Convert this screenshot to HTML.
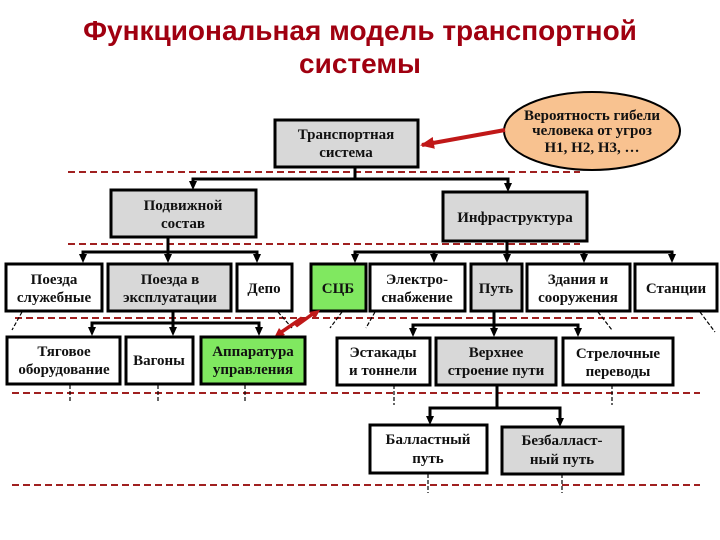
<!DOCTYPE html>
<html><head><meta charset="utf-8"><style>
html,body{margin:0;padding:0;background:#fff}
svg{display:block}
.t{font-family:"Liberation Serif",serif;font-weight:bold;font-size:15px;fill:#111;text-anchor:middle}
.b{stroke:#000;stroke-width:3}
.d{stroke:#a02020;stroke-width:2;stroke-dasharray:7,4;fill:none}
.l{stroke:#000;stroke-width:3;fill:none}
.s{stroke:#000;stroke-width:1.2;stroke-dasharray:4,2;fill:none}
</style></head><body>
<svg width="720" height="540" viewBox="0 0 720 540" xmlns="http://www.w3.org/2000/svg">
<defs><marker id="r" markerWidth="14" markerHeight="12" refX="12" refY="6" orient="auto" markerUnits="userSpaceOnUse"><path d="M0,0 L14,6 L0,12 Z" fill="#c01818"/></marker>
<path id="h" d="M-4,-9 L4,-9 L0,0 Z" fill="#000"/></defs>
<text x="360" y="40" font-family="Liberation Sans,sans-serif" font-weight="bold" font-size="28" fill="#a00010" text-anchor="middle">Функциональная модель транспортной</text>
<text x="360" y="73" font-family="Liberation Sans,sans-serif" font-weight="bold" font-size="28" fill="#a00010" text-anchor="middle">системы</text>

<ellipse cx="592" cy="131" rx="88" ry="39" fill="#f8c290" stroke="#000" stroke-width="2"/>
<text class="t" x="592" y="120" font-size="14">Вероятность гибели</text>
<text class="t" x="592" y="135" font-size="14">человека от угроз</text>
<text class="t" x="592" y="152">Н1, Н2, Н3, …</text>
<line x1="505" y1="130" x2="422" y2="145" stroke="#c01818" stroke-width="4" marker-end="url(#r)"/>

<rect x="275" y="120" width="143" height="47" fill="#d8d8d8" class="b"/>
<text class="t" x="346" y="139">Транспортная</text><text class="t" x="346" y="157">система</text>
<line x1="68" y1="172" x2="580" y2="172" class="d"/>
<path d="M355,167 V179 H193 V186 M355,179 H508 V188" class="l"/>
<use href="#h" x="193" y="190"/><use href="#h" x="508" y="192"/>

<rect x="111" y="190" width="145" height="47" fill="#d8d8d8" class="b"/>
<text class="t" x="183" y="210">Подвижной</text><text class="t" x="183" y="228">состав</text>
<rect x="443" y="192" width="144" height="49" fill="#d8d8d8" class="b"/>
<text class="t" x="515" y="222">Инфраструктура</text>
<line x1="68" y1="244" x2="580" y2="244" class="d"/>

<path d="M168,237 V252 H83 V258 M168,252 V258 M168,252 H257 V258 M507,241 V252 H355 V258 M434,252 V258 M507,252 V258 M584,252 V258 M507,252 H672 V258" class="l"/>
<use href="#h" x="83" y="263"/><use href="#h" x="168" y="263"/><use href="#h" x="257" y="263"/>
<use href="#h" x="355" y="263"/><use href="#h" x="434" y="263"/><use href="#h" x="507" y="263"/><use href="#h" x="584" y="263"/><use href="#h" x="672" y="263"/>

<rect x="6" y="264" width="96" height="47" fill="#fff" class="b"/>
<text class="t" x="54" y="284">Поезда</text><text class="t" x="54" y="302">служебные</text>
<rect x="108" y="264" width="123" height="47" fill="#d8d8d8" class="b"/>
<text class="t" x="170" y="284">Поезда в</text><text class="t" x="170" y="302">эксплуатации</text>
<rect x="237" y="264" width="55" height="47" fill="#fff" class="b"/>
<text class="t" x="264" y="293">Депо</text>
<rect x="311" y="264" width="55" height="47" fill="#80e860" class="b"/>
<text class="t" x="338" y="293">СЦБ</text>
<rect x="370" y="264" width="95" height="47" fill="#fff" class="b"/>
<text class="t" x="417" y="284">Электро-</text><text class="t" x="417" y="302">снабжение</text>
<rect x="471" y="264" width="51" height="47" fill="#d8d8d8" class="b"/>
<text class="t" x="496" y="293">Путь</text>
<rect x="527" y="264" width="103" height="47" fill="#fff" class="b"/>
<text class="t" x="578" y="284">Здания и</text><text class="t" x="578" y="302">сооружения</text>
<rect x="635" y="264" width="82" height="47" fill="#fff" class="b"/>
<text class="t" x="676" y="293">Станции</text>
<line x1="15" y1="318" x2="695" y2="318" class="d"/>
<path d="M22,312 L12,330 M278,312 L292,328 M342,312 L330,328 M375,312 L366,328 M598,312 L612,330 M700,312 L715,332" class="s"/>

<path d="M173,311 V323 H92 V330 M173,323 V330 M173,323 H259 V330 M494,311 V325 H413 V331 M494,325 V331 M494,325 H578 V331" class="l"/>
<use href="#h" x="92" y="336"/><use href="#h" x="173" y="336"/><use href="#h" x="259" y="336"/>
<use href="#h" x="413" y="337"/><use href="#h" x="494" y="337"/><use href="#h" x="578" y="337"/>
<path d="M280,333 L302,318 L296,326 L314,313" stroke="#c01818" stroke-width="3.5" fill="none"/>
<path d="M274,338 L279,328 L285,335 Z M320,310 L309,312 L315,319 Z" fill="#c01818"/>

<rect x="7" y="337" width="113" height="47" fill="#fff" class="b"/>
<text class="t" x="64" y="356">Тяговое</text><text class="t" x="64" y="374">оборудование</text>
<rect x="126" y="337" width="67" height="47" fill="#fff" class="b"/>
<text class="t" x="159" y="365">Вагоны</text>
<rect x="201" y="337" width="104" height="47" fill="#80e860" class="b"/>
<text class="t" x="253" y="356">Аппаратура</text><text class="t" x="253" y="374">управления</text>
<rect x="337" y="338" width="93" height="47" fill="#fff" class="b"/>
<text class="t" x="383" y="357">Эстакады</text><text class="t" x="383" y="375">и тоннели</text>
<rect x="436" y="338" width="120" height="47" fill="#d8d8d8" class="b"/>
<text class="t" x="496" y="357">Верхнее</text><text class="t" x="496" y="375">строение пути</text>
<rect x="563" y="338" width="110" height="47" fill="#fff" class="b"/>
<text class="t" x="618" y="358">Стрелочные</text><text class="t" x="618" y="376">переводы</text>
<line x1="12" y1="393" x2="700" y2="393" class="d"/>
<path d="M70,385 V403 M158,385 V403 M245,385 V403 M394,385 V405 M612,385 V405" class="s"/>

<path d="M497,385 V408 H430 V418 M497,408 H560 V420" class="l"/>
<use href="#h" x="430" y="425"/><use href="#h" x="560" y="427"/>
<rect x="370" y="425" width="117" height="48" fill="#fff" class="b"/>
<text class="t" x="428" y="444">Балластный</text><text class="t" x="428" y="463">путь</text>
<rect x="502" y="427" width="121" height="47" fill="#d8d8d8" class="b"/>
<text class="t" x="562" y="445">Безбалласт-</text><text class="t" x="562" y="464">ный путь</text>
<line x1="12" y1="485" x2="700" y2="485" class="d"/>
<path d="M428,474 V493 M562,474 V493" class="s"/>
</svg>
</body></html>
